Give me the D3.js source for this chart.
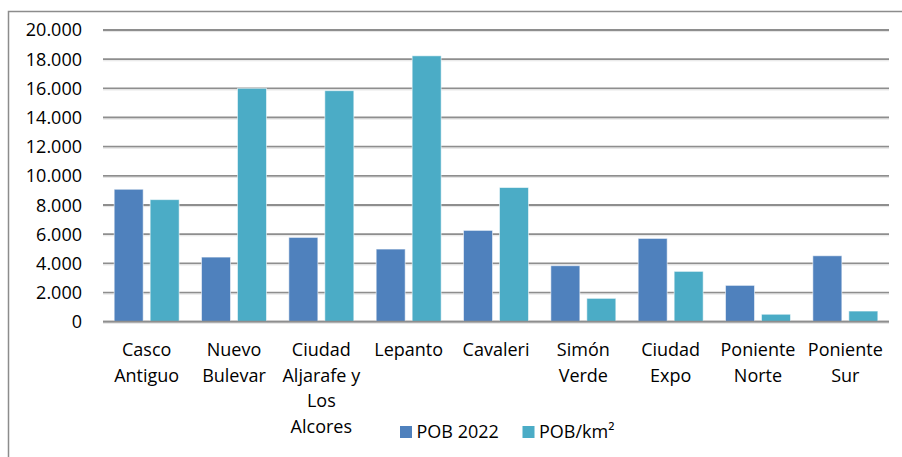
<!DOCTYPE html>
<html>
<head>
  <meta charset="utf-8">
  <title>POB 2022</title>
  <script src="https://cdn.jsdelivr.net/npm/d3@7"></script>
  <style>
    body { margin: 0; background: white; }
    text { font-family: "Open Sans", "Noto Sans", sans-serif; fill: #000; }
  </style>
</head>
<body>
  <svg id="chart" width="902" height="457"></svg>
  <script>
    // data
    var categories = ["Casco\nAntiguo", "Nuevo\nBulevar", "Ciudad\nAljarafe y\nLos\nAlcores", "Lepanto", "Cavaleri",
                      "Simón\nVerde", "Ciudad\nExpo", "Poniente\nNorte", "Poniente\nSur"]
    var seriesNames = ["POB 2022", "POB/km²"]
    var pob2022 = [9080, 4430, 5780, 4980, 6260, 3840, 5710, 2490, 4520]
    var pobKm2 = [8370, 16000, 15840, 18230, 9200, 1600, 3450, 510, 730]
    var yTicks = [0, 2000, 4000, 6000, 8000, 10000, 12000, 14000, 16000, 18000, 20000]
    var colors = ["#4f81bd", "#4bacc6"]

    var svg = d3.select("#chart")
    var plotLeft = 103, plotRight = 889, plotTop = 30, plotBottom = 321.7

    // outer frame
    svg.append("rect")
      .attr("x", 8.5).attr("y", 11.5)
      .attr("width", 910).attr("height", 470)
      .style("fill", "none")
      .style("stroke", "#8c8c8c")
      .style("stroke-width", 1.5)

    var x0 = d3.scaleBand().domain(d3.range(categories.length))
      .range([plotLeft, plotRight]).paddingInner(0.256).paddingOuter(0.128)
    var x1 = d3.scaleBand().domain([0, 1])
      .range([0, x0.bandwidth()]).paddingInner(0.194)
    var y = d3.scaleLinear().domain([0, 20000]).range([plotBottom, plotTop])

    var fmt = d3.formatLocale({decimal: ",", thousands: ".", grouping: [3], currency: ["", ""]}).format(",")

    // gridlines
    svg.append("g").selectAll("line").data(yTicks).join("line")
      .attr("x1", plotLeft).attr("x2", plotRight)
      .attr("y1", d => y(d)).attr("y2", d => y(d))
      .style("stroke", "#8e8e8e")
      .style("stroke-width", 1.8)
    svg.append("g").selectAll("line").data(yTicks).join("line")
      .attr("x1", plotLeft).attr("x2", plotRight)
      .attr("y1", d => y(d) + 1.6).attr("y2", d => y(d) + 1.6)
      .style("stroke", "#e4e4e4")
      .style("stroke-width", 1)

    // y labels
    svg.append("g").selectAll("text").data(yTicks).join("text")
      .attr("x", 82).attr("y", d => y(d))
      .attr("dy", "0.36em")
      .attr("text-anchor", "end")
      .style("font-size", "18px")
      .text(d => fmt(d))

    // bars
    var series = [pob2022, pobKm2]
    series.forEach(function (vals, s) {
      svg.append("g").selectAll("rect").data(vals).join("rect")
        .attr("x", (d, i) => x0(i) + x1(s))
        .attr("y", d => y(d))
        .attr("width", x1.bandwidth())
        .attr("height", d => y(0) - y(d))
        .style("fill", colors[s])
        .style("stroke", "rgba(255,255,255,0.55)")
        .style("stroke-width", 1)
    })

    // baseline again on top
    svg.append("line")
      .attr("x1", plotLeft).attr("x2", plotRight)
      .attr("y1", y(0)).attr("y2", y(0))
      .style("stroke", "#8e8e8e")
      .style("stroke-width", 1.8)

    // category labels
    var cat = svg.append("g").selectAll("text").data(categories).join("text")
      .attr("text-anchor", "middle")
      .style("font-size", "18px")
    cat.each(function (d, i) {
      var t = d3.select(this)
      d.split("\n").forEach(function (line, k) {
        t.append("tspan")
          .attr("x", x0(i) + x0.bandwidth() / 2)
          .attr("y", 356 + k * 25.6)
          .text(line)
      })
    })

    // legend
    var legX = [400, 522.5]
    var leg = svg.append("g").selectAll("g").data(seriesNames).join("g")
      .attr("transform", (d, i) => "translate(" + legX[i] + ",426)")
    leg.append("rect")
      .attr("width", 12).attr("height", 12)
      .style("fill", (d, i) => colors[i])
    leg.append("text")
      .attr("x", 16.5).attr("y", 6)
      .attr("dy", "0.36em")
      .style("font-size", "18px")
      .text(d => d)
  </script>
</body>
</html>
